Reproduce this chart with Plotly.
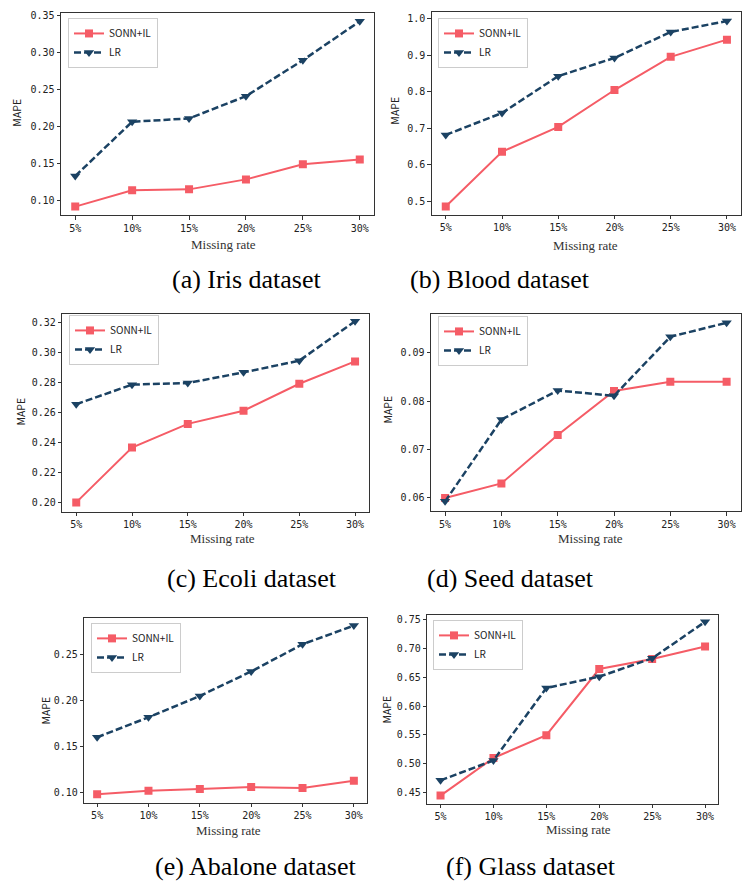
import plotly.graph_objects as go

W, H = 742, 884

categories = ["5%", "10%", "15%", "20%", "25%", "30%"]

iris_sonn = [0.0915, 0.1135, 0.1148, 0.1283, 0.1486, 0.1553]
iris_lr = [0.1328, 0.2061, 0.2106, 0.2407, 0.2893, 0.3419]

blood_sonn = [0.486, 0.636, 0.704, 0.805, 0.896, 0.943]
blood_lr = [0.682, 0.742, 0.843, 0.893, 0.964, 0.994]

ecoli_sonn = [0.200, 0.2366, 0.2524, 0.2612, 0.2792, 0.2941]
ecoli_lr = [0.2655, 0.2786, 0.2797, 0.2868, 0.2946, 0.3209]

seed_sonn = [0.0600, 0.0630, 0.0730, 0.0821, 0.0840, 0.0840]
seed_lr = [0.0593, 0.0762, 0.0822, 0.0811, 0.0933, 0.0962]

abalone_sonn = [0.0975, 0.1014, 0.1033, 0.1054, 0.1043, 0.1123]
abalone_lr = [0.1596, 0.1813, 0.2045, 0.2312, 0.2608, 0.2811]

glass_sonn = [0.4448, 0.5100, 0.5496, 0.6642, 0.6815, 0.7034]
glass_lr = [0.4713, 0.5058, 0.6314, 0.6510, 0.6827, 0.7460]

iris_ticks = [0.10, 0.15, 0.20, 0.25, 0.30, 0.35]
blood_ticks = [0.5, 0.6, 0.7, 0.8, 0.9, 1.0]
ecoli_ticks = [0.20, 0.22, 0.24, 0.26, 0.28, 0.30, 0.32]
seed_ticks = [0.06, 0.07, 0.08, 0.09]
abalone_ticks = [0.10, 0.15, 0.20, 0.25]
glass_ticks = [0.45, 0.50, 0.55, 0.60, 0.65, 0.70, 0.75]

series_names = ["SONN+IL", "LR"]
captions = ["(a) Iris dataset", "(b) Blood dataset", "(c) Ecoli dataset",
            "(d) Seed dataset", "(e) Abalone dataset", "(f) Glass dataset"]

RED = "#F55C66"
NAVY = "#1B4263"

# layout geometry in pixels
panels = [
    dict(sonn=iris_sonn, lr=iris_lr, ticks=iris_ticks, fmt=".2f",
         box=(61, 374, 10, 213), yr=(0.0798, 0.3531), leg=(68, 15),
         mape=(17, 110), mr=(223, 242), cap=(246, 277)),
    dict(sonn=blood_sonn, lr=blood_lr, ticks=blood_ticks, fmt=".1f",
         box=(431.7, 741, 9.3, 212.7), yr=(0.4627, 1.018), leg=(438, 15),
         mape=(395, 108), mr=(585, 243), cap=(500, 277)),
    dict(sonn=ecoli_sonn, lr=ecoli_lr, ticks=ecoli_ticks, fmt=".2f",
         box=(62.3, 369, 311.7, 510.7), yr=(0.1936, 0.326), leg=(69, 313),
         mape=(21, 410), mr=(222, 537), cap=(252, 577)),
    dict(sonn=seed_sonn, lr=seed_lr, ticks=seed_ticks, fmt=".2f",
         box=(431, 740.7, 312.3, 510), yr=(0.05725, 0.09796), leg=(438, 314),
         mape=(388, 408), mr=(590, 537), cap=(511, 577)),
    dict(sonn=abalone_sonn, lr=abalone_lr, ticks=abalone_ticks, fmt=".2f",
         box=(84.3, 366.7, 616.7, 802.7), yr=(0.0881, 0.2898), leg=(91, 622),
         mape=(46, 710), mr=(228, 830), cap=(255, 866)),
    dict(sonn=glass_sonn, lr=glass_lr, ticks=glass_ticks, fmt=".2f",
         box=(427.3, 718.3, 614, 803.3), yr=(0.431, 0.758), leg=(433, 619),
         mape=(387, 709), mr=(578, 829), cap=(531, 866)),
]

def px_x(x):
    return x / W

def px_y(y):
    return 1 - y / H

fig = go.Figure()
layout = dict(width=W, height=H, margin=dict(l=0, r=0, t=0, b=0),
              paper_bgcolor="white", plot_bgcolor="white", showlegend=True)
annotations = []

for i, p in enumerate(panels):
    n = i + 1
    xa = "x" if n == 1 else f"x{n}"
    ya = "y" if n == 1 else f"y{n}"
    leg = "legend" if n == 1 else f"legend{n}"
    fig.add_trace(go.Scatter(
        x=categories, y=p["sonn"], name=series_names[0], mode="lines+markers",
        line=dict(color=RED, width=2),
        marker=dict(symbol="square", size=8, color=RED),
        xaxis=xa, yaxis=ya, legend=leg))
    fig.add_trace(go.Scatter(
        x=categories, y=p["lr"], name=series_names[1], mode="lines+markers",
        line=dict(color=NAVY, width=2.5, dash="7px,3px"),
        marker=dict(symbol="triangle-down", size=9, color=NAVY),
        xaxis=xa, yaxis=ya, legend=leg))
    x0, x1, y0, y1 = p["box"]
    axis_common = dict(showline=True, mirror=True, linecolor="#333333", linewidth=1,
                       ticks="outside", ticklen=3.5, tickcolor="#333333",
                       showgrid=False, zeroline=False,
                       tickfont=dict(family="DejaVu Sans Mono", size=10, color="#222222"))
    layout["xaxis" if n == 1 else f"xaxis{n}"] = dict(
        axis_common, domain=[px_x(x0), px_x(x1)], anchor=ya,
        type="category", range=[-0.25, 5.25])
    layout["yaxis" if n == 1 else f"yaxis{n}"] = dict(
        axis_common, domain=[px_y(y1), px_y(y0)], anchor=xa,
        range=list(p["yr"]), tickvals=p["ticks"], tickformat=p["fmt"])
    lx, ly = p["leg"]
    layout[leg] = dict(x=px_x(lx), y=px_y(ly), xanchor="left", yanchor="top",
                       bgcolor="white", bordercolor="#CCCCCC", borderwidth=1,
                       font=dict(family="Noto Sans CJK SC", size=10, color="#222222"),
                       tracegroupgap=0, itemwidth=30)
    mx, my = p["mape"]
    annotations.append(dict(text="MAPE", x=px_x(mx), y=px_y(my), xref="paper", yref="paper",
                            xanchor="center", yanchor="middle",
                            showarrow=False, textangle=-90,
                            font=dict(family="Noto Sans CJK SC", size=10.5, color="#222222")))
    rx, ry = p["mr"]
    annotations.append(dict(text="Missing rate", x=px_x(rx), y=px_y(ry), xref="paper", yref="paper",
                            xanchor="center", yanchor="middle",
                            showarrow=False,
                            font=dict(family="Liberation Serif", size=13, color="#333333")))
    cx, cy = p["cap"]
    annotations.append(dict(text=captions[i], x=px_x(cx), y=px_y(cy), xref="paper", yref="paper",
                            xanchor="center", yanchor="middle",
                            showarrow=False,
                            font=dict(family="Liberation Serif", size=26, color="#000000")))

layout["annotations"] = annotations
fig.update_layout(**layout)
fig.write_html("out.html", config={"displayModeBar": False},
               post_script="document.body.style.margin='0';document.body.style.overflow='hidden';")
